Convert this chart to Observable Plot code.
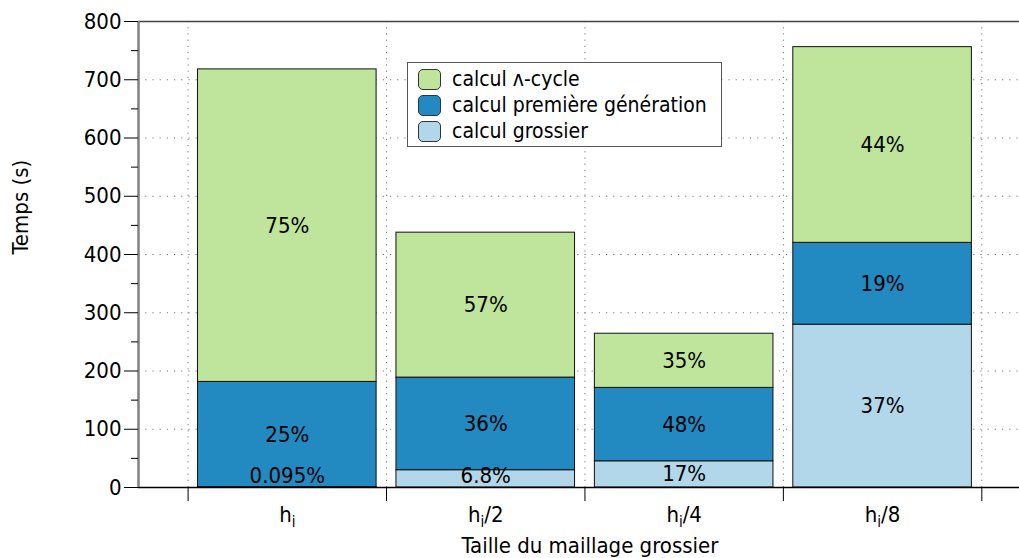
<!DOCTYPE html>
<html><head><meta charset="utf-8">
<script src="https://cdn.jsdelivr.net/npm/d3@7"></script>
<script src="https://cdn.jsdelivr.net/npm/@observablehq/plot@0.6"></script>
<style>
body{margin:0;background:#fff;}
#wrap{position:relative;width:1019px;height:558px;font-family:"DejaVu Sans Condensed","DejaVu Sans",sans-serif;}
#wrap svg{font-family:"DejaVu Sans Condensed","DejaVu Sans",sans-serif;}
.legend{position:absolute;left:407px;top:62px;width:315px;height:85px;border:1.5px solid #555;background:#fff;box-sizing:border-box;}
.legend .row{position:absolute;left:10px;height:24px;display:flex;align-items:center;font-size:21px;color:#000;white-space:nowrap;}
.legend .sw{width:23px;height:21px;border:1px solid #333;border-radius:5px;box-sizing:border-box;margin-right:11px;}
</style></head><body><div id="wrap"></div>
<script>
const categories = ["h_i", "h_i/2", "h_i/4", "h_i/8"];
const seriesNames = ["calcul ʌ-cycle", "calcul première génération", "calcul grossier"];
const coarse = [0.68, 29.7, 45, 279.6];
const firstGen = [180.6, 159, 126, 140.4];
const lambdaCycle = [536.5, 248.8, 93, 336];
const coarsePct = ["0.095%", "6.8%", "17%", "37%"];
const firstGenPct = ["25%", "36%", "48%", "19%"];
const lambdaPct = ["75%", "57%", "35%", "44%"];
const yTicks = [0, 100, 200, 300, 400, 500, 600, 700, 800];
const yMinorTicks = [50, 150, 250, 350, 450, 550, 650, 750];
const colors = ["#bfe49b", "#2389c1", "#b3d7ea"];

// build stacked rows (bottom → top: coarse, first generation, lambda-cycle)
const rows = [];
categories.forEach((c, i) => {
  const parts = [
    {series: seriesNames[2], value: coarse[i], pct: coarsePct[i]},
    {series: seriesNames[1], value: firstGen[i], pct: firstGenPct[i]},
    {series: seriesNames[0], value: lambdaCycle[i], pct: lambdaPct[i]}
  ];
  let base = 0;
  for (const p of parts) {
    rows.push({i, cat: c, series: p.series, pct: p.pct, y1: base, y2: base + p.value});
    base += p.value;
  }
});
const boundaries = categories.map((c, i) => i - 0.5).concat([categories.length - 0.5]);
const xDomain = [-0.75, 3.69];
const halfBar = 0.45;
const minLabelY = 20.5;

const font = '"DejaVu Sans Condensed","DejaVu Sans",sans-serif';
const chart = Plot.plot({
  width: 1019,
  height: 558,
  marginLeft: 138,
  marginRight: 0,
  marginTop: 21,
  marginBottom: 71,
  style: {fontFamily: font, background: "#fff", color: "#000"},
  x: {type: "linear", domain: xDomain},
  y: {domain: [0, 800]},
  color: {domain: seriesNames, range: colors},
  marks: [
    Plot.gridY(yTicks.slice(1, -1), {stroke: "#777", strokeOpacity: 1, strokeDasharray: "1.2,6"}),
    Plot.gridX(boundaries, {stroke: "#777", strokeOpacity: 1, strokeDasharray: "1.2,5"}),
    Plot.rectY(rows, {x1: d => d.i - halfBar, x2: d => d.i + halfBar, y1: "y1", y2: "y2", fill: "series", stroke: "#111", strokeWidth: 1}),
    Plot.text(rows, {x: "i", y: d => Math.max((d.y1 + d.y2) / 2, minLabelY), text: "pct", fontSize: 22, fill: "#000"}),
    Plot.ruleY([800], {stroke: "#444", strokeWidth: 1.5}),
    Plot.ruleY([0], {stroke: "#000", strokeWidth: 1.5}),
    Plot.ruleX([xDomain[0]], {stroke: "#808080", strokeWidth: 2.5}),
    Plot.axisY(yTicks, {tickSize: 14, tickPadding: 3, fontSize: 22, label: null, stroke: "#000"}),
    Plot.axisY(yMinorTicks, {tickSize: 7, tickFormat: () => "", label: null, stroke: "#000"}),
    Plot.axisX(boundaries, {tickSize: 14, tickFormat: () => "", label: null, stroke: "#000"}),
    Plot.axisX([0, 1, 2, 3], {tickSize: 0, tickPadding: 19, tickFormat: i => categories[i], fontSize: 22, label: null}),
    Plot.text(["Temps (s)"], {frameAnchor: "left", dx: -118, rotate: -90, fontSize: 22, fill: "#000"}),
    Plot.text(["Taille du maillage grossier"], {frameAnchor: "bottom", dx: 11, dy: 65, fontSize: 22, fill: "#000"})
  ]
});

// render subscripts in x tick labels (h_i → h with subscript i)
chart.querySelectorAll("text").forEach(t => {
  const s = t.textContent;
  if (/^h_i/.test(s)) {
    const rest = s.slice(3);
    while (t.firstChild) t.removeChild(t.firstChild);
    const ns = "http://www.w3.org/2000/svg";
    const a = document.createElementNS(ns, "tspan"); a.textContent = "h"; t.appendChild(a);
    const b = document.createElementNS(ns, "tspan"); b.textContent = "i"; b.setAttribute("dy", "5"); b.setAttribute("font-size", "15"); t.appendChild(b);
    if (rest) { const c = document.createElementNS(ns, "tspan"); c.textContent = rest; c.setAttribute("dy", "-5"); t.appendChild(c); }
  }
});

const wrap = document.getElementById("wrap");
wrap.appendChild(chart);

// legend
const legend = document.createElement("div");
legend.className = "legend";
seriesNames.forEach((name, k) => {
  const row = document.createElement("div");
  row.className = "row";
  row.style.top = (4 + k * 26) + "px";
  const sw = document.createElement("div");
  sw.className = "sw";
  sw.style.background = colors[k];
  const lab = document.createElement("span");
  lab.textContent = name;
  row.appendChild(sw); row.appendChild(lab);
  legend.appendChild(row);
});
wrap.appendChild(legend);
</script></body></html>
